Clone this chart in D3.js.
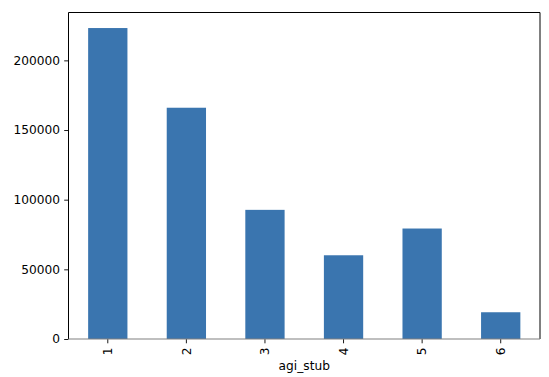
<!DOCTYPE html>
<html>
<head>
<meta charset="utf-8">
<script src="https://cdn.jsdelivr.net/npm/d3@7"></script>
<style>
  body { margin: 0; background: #fff; }
  text { font-family: "DejaVu Sans", sans-serif; }
</style>
</head>
<body>
<div id="chart"></div>
<script>
// agi_stub counts
const categories = ["1", "2", "3", "4", "5", "6"];
const counts = [223200, 166000, 92700, 60100, 79300, 19200];
const yTicks = [0, 50000, 100000, 150000, 200000];

const width = 549, height = 377;
const margin = { top: 12.5, right: 9, bottom: 38, left: 68.5 };
const fontPx = 12.2;
const tickLen = 4.3;

const svg = d3.select("#chart").append("svg")
    .attr("width", width)
    .attr("height", height);

const x = d3.scaleBand()
    .domain(categories)
    .range([margin.left, width - margin.right])
    .padding(0.5)
    .paddingOuter(0.25);

const y = d3.scaleLinear()
    .domain([0, d3.max(counts) * 1.05])
    .range([height - margin.bottom, margin.top]);

// bars
svg.append("g")
    .selectAll("rect")
    .data(counts)
    .join("rect")
    .attr("x", (d, i) => x(categories[i]))
    .attr("y", d => y(d))
    .attr("width", x.bandwidth())
    .attr("height", d => y(0) - y(d))
    .style("fill", "#3a75af");

// y axis
const yAxis = svg.append("g")
    .attr("transform", `translate(${margin.left},0)`)
    .call(d3.axisLeft(y).tickValues(yTicks).tickFormat(d3.format("d"))
        .tickSize(tickLen).tickPadding(4.3));
yAxis.select(".domain").remove();
yAxis.selectAll("text").style("font-size", fontPx + "px").style("fill", "#000");
yAxis.selectAll("line").style("stroke", "#000").style("stroke-width", 0.9);

// x axis
const xAxis = svg.append("g")
    .attr("transform", `translate(0,${height - margin.bottom})`)
    .call(d3.axisBottom(x).tickSize(tickLen).tickPadding(0));
xAxis.select(".domain").remove();
xAxis.selectAll("line").style("stroke", "#000").style("stroke-width", 0.9);
xAxis.selectAll("text")
    .style("font-size", fontPx + "px")
    .style("fill", "#000")
    .attr("y", 0)
    .attr("dy", "0.35em")
    .attr("text-anchor", "end")
    .attr("transform", `translate(0,${tickLen + 4.3}) rotate(-90)`);

// frame
const x0 = margin.left, x1 = width - margin.right;
const y0 = margin.top, y1 = height - margin.bottom;
svg.append("line").attr("x1", x0).attr("x2", x0).attr("y1", y0).attr("y2", y1)
    .style("stroke", "#000").style("stroke-width", 1);
svg.append("line").attr("x1", x1).attr("x2", x1).attr("y1", y0).attr("y2", y1)
    .style("stroke", "#000").style("stroke-width", 1);
svg.append("line").attr("x1", x0).attr("x2", x1).attr("y1", y0).attr("y2", y0)
    .style("stroke", "#000").style("stroke-width", 1);
svg.append("line").attr("x1", x0).attr("x2", x1).attr("y1", y1).attr("y2", y1)
    .style("stroke", "#808080").style("stroke-width", 1.2);

// x label
svg.append("text")
    .attr("x", (x0 + x1) / 2)
    .attr("y", 370)
    .attr("text-anchor", "middle")
    .style("font-size", fontPx + "px")
    .text("agi_stub");
</script>
</body>
</html>
